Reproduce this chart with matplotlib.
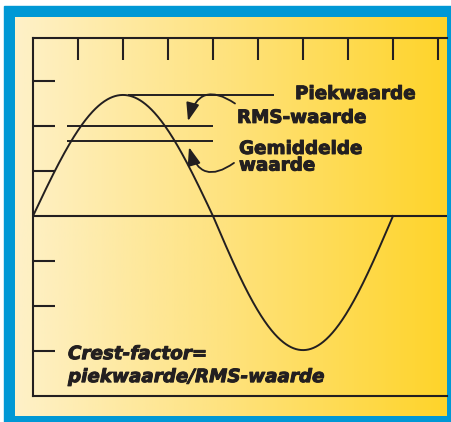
import numpy as np
import matplotlib
matplotlib.use("Agg")
import matplotlib.pyplot as plt
import matplotlib.patheffects as pe
from matplotlib.patches import Rectangle
from matplotlib.colors import LinearSegmentedColormap

# horizontal unit: degrees of the wave, vertical unit: one tick step
phase_ticks = [45, 90, 135, 180, 225, 270, 315, 360, 405]
level_ticks = [-3, -2, -1, 1, 2, 3]
peak_pos = 2.69      # top of positive half
peak_neg = 2.98      # depth of negative half
rms_level = 2.0
avg_level = 1.67

ink = "#231f20"
W, H = 452, 422

fig = plt.figure(figsize=(W / 100, H / 100), dpi=100)
fig.patch.set_facecolor("white")

# blue frame
fig.patches.append(Rectangle((4 / W, 0), 1 - 4 / W, 1 - 6 / H,
                             transform=fig.transFigure, color="#0098d5", zorder=0))

# cream -> yellow gradient panel
bg = fig.add_axes([15 / W, 1 - 416 / H, (447 - 15) / W, (416 - 17) / H], zorder=1)
cmap = LinearSegmentedColormap.from_list("cy", ["#fef1c8", "#fee27c", "#ffd42a"])
bg.imshow(np.linspace(0, 1, 256)[None, :], aspect="auto", cmap=cmap, extent=[0, 1, 0, 1])
bg.axis("off")

ax = fig.add_axes([33 / W, 1 - 396 / H, (447 - 33) / W, (396 - 38) / H], zorder=2)
ax.set_facecolor("none")
ax.set_xlim(0, 414)
ax.set_ylim(-4.0, 178 / 45)

x = np.linspace(0, 360, 721)
s = np.sin(np.radians(x))
y = np.where(s >= 0, peak_pos * s, peak_neg * s)
ax.plot(x, y, color=ink, lw=1.4)

ax.axhline(0, color=ink, lw=1.5)
ax.hlines(peak_pos, 95, 241, color=ink, lw=1.4)
ax.hlines([rms_level, avg_level], 34, 180, color=ink, lw=1.4)

for sp in ["left", "top", "bottom"]:
    ax.spines[sp].set_color(ink)
    ax.spines[sp].set_linewidth(1.5)
ax.spines["right"].set_visible(False)

ax.set_xticks(phase_ticks)
ax.set_yticks(level_ticks)
ax.tick_params(direction="in", length=16, width=1.5, color=ink,
               top=True, bottom=False, left=True, right=False,
               labelleft=False, labelbottom=False)

arrow = dict(arrowstyle="-|>,head_length=1.1,head_width=0.4", color=ink, lw=1.3,
             shrinkA=0, shrinkB=0, mutation_scale=10)
ax.annotate("", xy=(155, 2.11), xytext=(202, 2.50),
            arrowprops=dict(arrow, connectionstyle="arc3,rad=0.7"))
ax.annotate("", xy=(156, 1.53), xytext=(201, 1.18),
            arrowprops=dict(arrow, connectionstyle="arc3,rad=-0.7"))

heavy = [pe.withStroke(linewidth=0.7, foreground=ink)]
tk = dict(fontsize=13.2, fontweight="bold", color=ink, va="center", path_effects=heavy)
ax.text(262, 2.71, "Piekwaarde", **tk)
ax.text(204, 2.18, "RMS-waarde", **tk)
ax.text(206, 1.49, "Gemiddelde", **tk)
ax.text(206, 1.12, "waarde", **tk)
ax.text(35, -3.07, "Crest-factor=", style="italic", **tk)
ax.text(35, -3.58, "piekwaarde/RMS-waarde", style="italic", **tk)

fig.savefig("out.png", dpi=100)
